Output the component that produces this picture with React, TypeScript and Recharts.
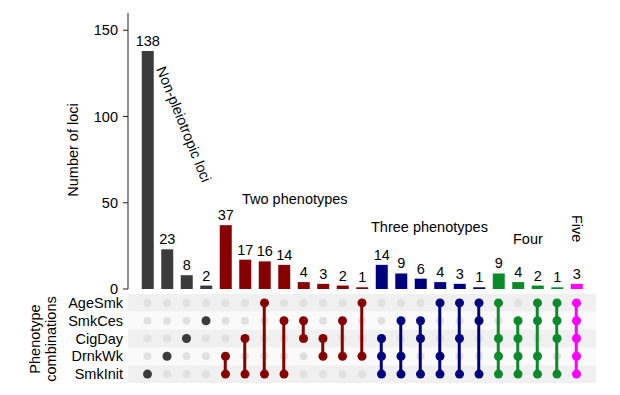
import { ComposedChart, Bar, XAxis, YAxis, Cell, LabelList, Scatter, ReferenceArea } from 'recharts';

const phenotypes = ['AgeSmk', 'SmkCes', 'CigDay', 'DrnkWk', 'SmkInit'];

const counts = [138, 23, 8, 2, 37, 17, 16, 14, 4, 3, 2, 1, 14, 9, 6, 4, 3, 1, 9, 4, 2, 1, 3];

const combinations = [
    ['SmkInit'], ['DrnkWk'], ['CigDay'], ['SmkCes'],
    ['SmkInit', 'DrnkWk'], ['SmkInit', 'CigDay'], ['SmkInit', 'AgeSmk'], ['SmkInit', 'SmkCes'],
    ['SmkCes', 'CigDay'], ['CigDay', 'DrnkWk'], ['SmkCes', 'DrnkWk'], ['AgeSmk', 'DrnkWk'],
    ['CigDay', 'DrnkWk', 'SmkInit'], ['SmkCes', 'DrnkWk', 'SmkInit'], ['SmkCes', 'CigDay', 'SmkInit'],
    ['AgeSmk', 'DrnkWk', 'SmkInit'], ['AgeSmk', 'CigDay', 'SmkInit'], ['AgeSmk', 'SmkCes', 'SmkInit'],
    ['AgeSmk', 'CigDay', 'DrnkWk', 'SmkInit'], ['SmkCes', 'CigDay', 'DrnkWk', 'SmkInit'],
    ['AgeSmk', 'SmkCes', 'DrnkWk', 'SmkInit'], ['AgeSmk', 'SmkCes', 'CigDay', 'SmkInit'],
    ['AgeSmk', 'SmkCes', 'CigDay', 'DrnkWk', 'SmkInit'],
];

// colour by number of phenotypes in the combination
const degreeColors = ['#3b3b3b', '#870000', '#00007e', '#0a8a2a', '#ff00ff'];

const yTicks = [0, 50, 100, 150];
const xTicks = counts.map((_, i) => i);
const rowTicks = phenotypes.map((_, r) => r);

const barData = counts.map((count, i) => ({
    idx: i,
    count,
    color: degreeColors[combinations[i].length - 1],
}));

const lineData = combinations.map((combo, i) => {
    const rows = combo.map((p) => phenotypes.indexOf(p));
    return { idx: i, span: [Math.min(...rows), Math.max(...rows)], color: degreeColors[combo.length - 1] };
});

const bgDots = xTicks.flatMap((i) => phenotypes.map((_, r) => ({ idx: i, row: r })));

const activeDots = combinations.flatMap((combo, i) =>
    combo.map((p) => ({ idx: i, row: phenotypes.indexOf(p), color: degreeColors[combo.length - 1] }))
);

const font = { fontSize: 14.5, fill: '#000' };

const App = () => {
    return (
        <div style={{ position: 'absolute', left: 0, top: 0, width: 620, height: 395, background: '#fff', fontFamily: '"Liberation Sans", Arial, sans-serif' }}>
            <div style={{ position: 'absolute', left: 0, top: 0 }}>
                <ComposedChart width={620} height={300} data={barData} margin={{ top: 13, right: 24, bottom: 11, left: 0 }}>
                    <XAxis type="number" dataKey="idx" domain={[-1, 23]} ticks={xTicks} tick={false} tickLine={false} height={0} stroke="#222" />
                    <YAxis type="number" domain={[0, 160]} ticks={yTicks} interval={0} width={128} tickSize={5} tickMargin={5} stroke="#222" tick={font} />
                    <Bar dataKey="count" barSize={12} isAnimationActive={false}>
                        {barData.map((d) => (
                            <Cell key={d.idx} fill={d.color} />
                        ))}
                        <LabelList dataKey="count" position="top" offset={5} style={{ fontSize: 14.5, fill: '#000' }} />
                    </Bar>
                    <text transform="translate(78,150) rotate(-90)" textAnchor="middle" fontSize={14.5} fill="#000">Number of loci</text>
                    <text transform="translate(156,69) rotate(68)" fontSize={14.5} fill="#000">Non-pleiotropic loci</text>
                    <text x={242} y={204} fontSize={14.5} fill="#000">Two phenotypes</text>
                    <text x={371} y={232} fontSize={14.5} fill="#000">Three phenotypes</text>
                    <text x={513} y={244} fontSize={14.5} fill="#000">Four</text>
                    <text transform="translate(572,215) rotate(90)" fontSize={14.5} fill="#000">Five</text>
                </ComposedChart>
            </div>
            {/* matrix background: row bands and empty cells */}
            <div style={{ position: 'absolute', left: 0, top: 290 }}>
                <ComposedChart width={620} height={100} margin={{ top: 4, right: 24, bottom: 7, left: 0 }}>
                    <XAxis type="number" dataKey="idx" domain={[-1, 23]} ticks={xTicks} hide />
                    <YAxis
                        type="number"
                        dataKey="row"
                        domain={[-0.5, 4.5]}
                        ticks={rowTicks}
                        interval={0}
                        reversed
                        width={128}
                        axisLine={false}
                        tickLine={false}
                        tickSize={3}
                        tickMargin={2}
                        tick={font}
                        tickFormatter={(v: number) => phenotypes[v]}
                    />
                    {phenotypes.map((p, r) => (
                        <ReferenceArea key={p} y1={r - 0.5} y2={r + 0.5} fill={r % 2 === 0 ? '#f0f0f0' : '#fafafa'} fillOpacity={1} stroke="none" />
                    ))}
                    <Scatter data={bgDots} isAnimationActive={false} shape={(p: any) => <circle cx={p.cx} cy={p.cy} r={4} fill="#e1e1e1" />} />
                    <text transform="translate(40,49) rotate(-90)" textAnchor="middle" fontSize={14.5} fill="#000">Phenotype</text>
                    <text transform="translate(56,49) rotate(-90)" textAnchor="middle" fontSize={14.5} fill="#000">combinations</text>
                </ComposedChart>
            </div>
            {/* matrix foreground: connecting lines and filled cells */}
            <div style={{ position: 'absolute', left: 0, top: 290 }}>
                <ComposedChart width={620} height={100} data={lineData} margin={{ top: 4, right: 24, bottom: 7, left: 128 }}>
                    <XAxis type="number" dataKey="idx" domain={[-1, 23]} ticks={xTicks} hide />
                    <YAxis type="number" dataKey="row" domain={[-0.5, 4.5]} ticks={rowTicks} reversed hide />
                    <Bar dataKey="span" barSize={3} isAnimationActive={false}>
                        {lineData.map((d) => (
                            <Cell key={d.idx} fill={d.color} />
                        ))}
                    </Bar>
                    <Scatter data={activeDots} isAnimationActive={false} shape={(p: any) => <circle cx={p.cx} cy={p.cy} r={4.5} fill={p.payload.color} />} />
                </ComposedChart>
            </div>
        </div>
    );
};

export default App;
